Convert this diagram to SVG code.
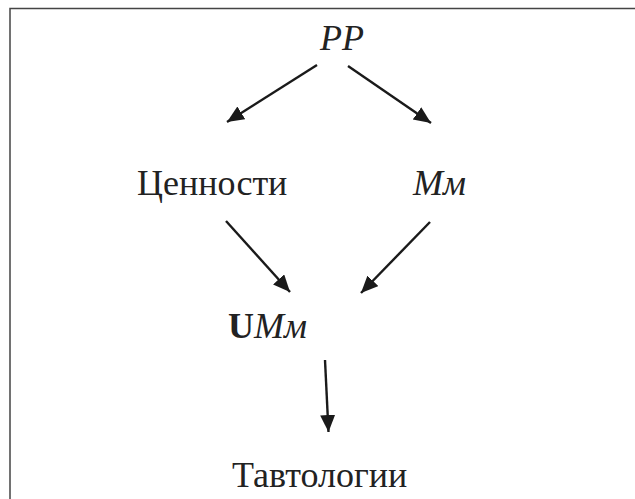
<svg xmlns="http://www.w3.org/2000/svg" width="635" height="499" viewBox="0 0 635 499">
<style>
.t{font-family:"Liberation Serif","Times New Roman",serif;font-size:36px;fill:#222}
.i{font-style:italic}
.b{font-weight:bold}
.c{stroke:#1a1a1a;stroke-width:2.4;fill:none}
</style>
<defs>
<marker id="ah" markerUnits="userSpaceOnUse" markerWidth="20" markerHeight="18" refX="17" refY="7.5" orient="auto">
<path d="M0,0 L17,7.5 L0,15 Z" fill="#1a1a1a"/>
</marker>
</defs>
<rect width="635" height="499" fill="#fff"/>
<path d="M10,499 V8.5 H635" fill="none" stroke="#444" stroke-width="1.5"/>
<g id="connectors">
<line class="c" x1="317" y1="65" x2="227" y2="122" marker-end="url(#ah)"/>
<line class="c" x1="348" y1="66" x2="431" y2="123" marker-end="url(#ah)"/>
<line class="c" x1="226" y1="221" x2="290" y2="292" marker-end="url(#ah)"/>
<line class="c" x1="430" y1="222" x2="361" y2="293" marker-end="url(#ah)"/>
<line class="c" x1="325" y1="360" x2="328.5" y2="432" marker-end="url(#ah)"/>
</g>
<g id="pp"><text class="t i" x="320" y="50">PP</text></g>
<g id="cennosti"><text class="t" x="137" y="195">Ценности</text></g>
<g id="mm"><text class="t i" x="413" y="195">Мм</text></g>
<g id="umm"><text class="t" x="228" y="338"><tspan class="b">U</tspan><tspan class="i">Мм</tspan></text></g>
<g id="tavtologii"><text class="t" x="232" y="487">Тавтологии</text></g>
</svg>
